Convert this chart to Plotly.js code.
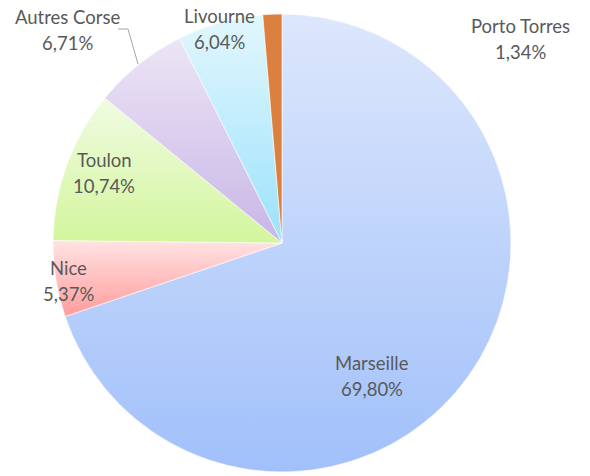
<!DOCTYPE html>
<html>
<head>
<meta charset="utf-8">
<script src="https://cdn.plot.ly/plotly-3.0.1.min.js"></script>
<style>html,body{margin:0;padding:0;background:#fff;}#chart{width:590px;height:476px;}</style>
</head>
<body>
<div id="chart"></div>
<script>
var categories = ["Marseille", "Nice", "Toulon", "Autres Corse", "Livourne", "Porto Torres"];
var shares = [69.80, 5.37, 10.74, 6.71, 6.04, 1.34];
var colorsTop = ["#dde7fc", "#ffe3e3", "#f0fbe2", "#ede5f6", "#e2f7fd", "#dc803f"];
var colorsBottom = ["#a1c0fa", "#ff9c9c", "#d3f69c", "#c8b6e6", "#9ce2fb", "#dc803f"];
var solid = ["#c0d5fb", "#ffc4c4", "#e3f8c0", "#dbcfef", "#c4eefc", "#dc803f"];
// label anchor positions (pixels) for data labels: name line and value line
var labelX = [372, 68, 104, 67, 219, 520];
var nameY = [363, 268, 160, 17, 16, 26];
var valueY = [389, 294, 186, 43, 42, 52];

function fmt(v){ return v.toFixed(2).replace('.', ',') + '%'; }

var trace = {
  type: 'pie',
  labels: categories,
  values: shares,
  sort: false,
  direction: 'clockwise',
  rotation: 0,
  textinfo: 'none',
  hoverinfo: 'label+percent',
  marker: {colors: solid, line: {color: '#ffffff', width: 0.6}},
  domain: {x: [52/590, 512/590], y: [1 - 472/476, 1 - 14/476]},
  showlegend: false
};

var font = {family: 'Lato, "Open Sans", sans-serif', size: 18.5, color: '#595959'};
var annotations = [];
categories.forEach(function(c, i){
  annotations.push({
    xref: 'paper', yref: 'paper',
    x: labelX[i] / 590, y: 1 - nameY[i] / 476,
    xanchor: 'center', yanchor: 'middle',
    text: c, showarrow: false, font: font
  });
  annotations.push({
    xref: 'paper', yref: 'paper',
    x: labelX[i] / 590, y: 1 - valueY[i] / 476,
    xanchor: 'center', yanchor: 'middle',
    text: fmt(shares[i]), showarrow: false, font: font
  });
});

var layout = {
  width: 590, height: 476,
  margin: {l: 0, r: 0, t: 0, b: 0},
  paper_bgcolor: '#ffffff',
  plot_bgcolor: '#ffffff',
  annotations: annotations,
  shapes: [{
    type: 'path', xref: 'paper', yref: 'paper',
    path: 'M ' + (118/590) + ' ' + (1-29/476) + ' L ' + (128/590) + ' ' + (1-29/476) + ' L ' + (138/590) + ' ' + (1-64/476),
    line: {color: '#a6a6a6', width: 1}
  }]
};

Plotly.newPlot('chart', [trace], layout, {displayModeBar: false, staticPlot: true}).then(function(gd){
  var svg = gd.querySelector('svg.main-svg');
  var ns = 'http://www.w3.org/2000/svg';
  var defs = svg.querySelector('defs') || svg.insertBefore(document.createElementNS(ns, 'defs'), svg.firstChild);
  categories.forEach(function(c, i){
    var g = document.createElementNS(ns, 'linearGradient');
    g.setAttribute('id', 'slicegrad' + i);
    g.setAttribute('x1', '0'); g.setAttribute('y1', '0');
    g.setAttribute('x2', '0'); g.setAttribute('y2', '1');
    var s1 = document.createElementNS(ns, 'stop');
    s1.setAttribute('offset', '0'); s1.setAttribute('stop-color', colorsTop[i]);
    var s2 = document.createElementNS(ns, 'stop');
    s2.setAttribute('offset', '1'); s2.setAttribute('stop-color', colorsBottom[i]);
    g.appendChild(s1); g.appendChild(s2);
    defs.appendChild(g);
  });
  var paths = gd.querySelectorAll('.slice path.surface');
  paths.forEach(function(p, i){
    p.style.fill = 'url(#slicegrad' + i + ')';
  });
});
</script>
</body>
</html>
